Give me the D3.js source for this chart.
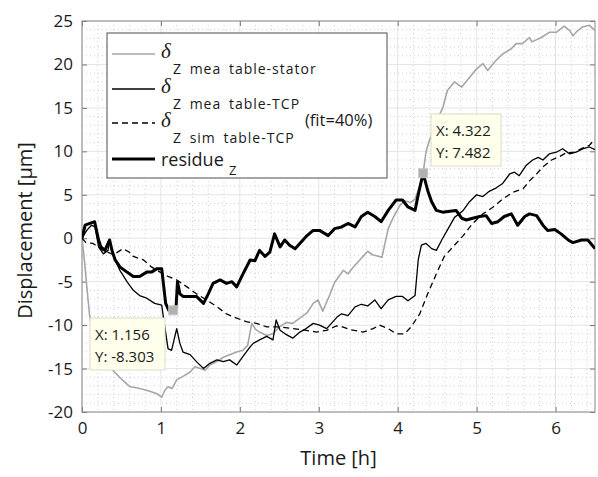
<!DOCTYPE html>
<html><head><meta charset="utf-8">
<script src="https://cdn.jsdelivr.net/npm/d3@7"></script>
<style>
body{margin:0;background:#fff;}
text{font-family:"Open Sans","Noto Sans",sans-serif;fill:#1a1a1a;}
</style></head>
<body><svg id="chart" width="598" height="477"></svg>
<script>
// ---- data ----
const statorT = [0,0.03,0.06,0.1,0.15,0.2,0.3,0.4,0.5,0.57,0.61,0.69,0.78,0.86,0.95,1.01,1.05,1.09,1.14,1.2,1.28,1.37,1.43,1.5,1.56,1.62,1.71,1.79,1.87,1.96,2.04,2.1,2.15,2.2,2.25,2.34,2.42,2.5,2.59,2.67,2.76,2.85,2.93,2.99,3.05,3.14,3.2,3.31,3.37,3.45,3.52,3.62,3.68,3.8,3.88,3.94,4.03,4.09,4.16,4.22,4.28,4.322,4.36,4.4,4.47,4.53,4.57,4.63,4.72,4.81,4.91,5.0,5.08,5.14,5.25,5.33,5.44,5.5,5.58,5.67,5.7,5.82,5.92,6.01,6.11,6.18,6.22,6.27,6.34,6.43,6.5];
const statorV = [0,-2.5,-5.5,-9.2,-11.5,-12.8,-14.3,-15.3,-16.2,-16.8,-17.1,-17.2,-17.4,-17.6,-17.9,-18.3,-17.5,-17.1,-17.3,-16.3,-15.9,-15.4,-14.8,-15.0,-15.2,-14.6,-14.2,-13.7,-13.4,-13.1,-12.9,-12.3,-9.8,-10.5,-10.8,-11.2,-11.0,-10.2,-9.7,-9.8,-9.2,-8.6,-7.5,-7.1,-8.4,-6.5,-5.1,-3.7,-4.1,-3.2,-2.5,-1.5,-1.9,-2.2,1.1,2.3,3.8,4.3,4.1,4.5,6.0,7.482,10.0,11.2,12.8,14.2,15.0,17.0,18.0,17.4,18.5,19.5,20.1,19.3,20.5,21.2,21.8,22.4,22.4,23.1,22.6,23.1,23.7,23.7,24.4,23.9,23.3,23.8,24.3,24.5,23.9];

const meaT = [0,0.06,0.12,0.165,0.21,0.27,0.33,0.35,0.4,0.48,0.57,0.65,0.73,0.82,0.92,1.01,1.03,1.09,1.135,1.2,1.24,1.28,1.37,1.45,1.54,1.62,1.71,1.79,1.87,1.96,2.04,2.13,2.17,2.25,2.34,2.42,2.46,2.51,2.59,2.67,2.76,2.84,2.93,3.01,3.1,3.18,3.24,3.29,3.37,3.46,3.54,3.62,3.71,3.79,3.88,3.98,4.06,4.13,4.22,4.26,4.3,4.36,4.43,4.49,4.57,4.64,4.72,4.83,4.91,5.0,5.08,5.16,5.25,5.33,5.42,5.48,5.54,5.63,5.71,5.78,5.84,5.92,6.01,6.09,6.18,6.26,6.35,6.43,6.5];
const meaV = [0,0.9,1.5,1.3,-1.0,-1.8,-1.4,-0.2,-2.1,-3.7,-5.0,-6.0,-6.6,-6.9,-7.5,-7.7,-9.0,-12.7,-12.9,-10.4,-12.1,-13.1,-13.4,-14.2,-15.0,-14.4,-14.0,-14.2,-14.0,-14.6,-13.6,-12.5,-12.1,-11.7,-11.3,-11.7,-9.4,-10.6,-11.1,-11.5,-10.8,-10.4,-9.8,-10.0,-10.4,-9.6,-9.0,-8.7,-8.9,-7.9,-7.6,-7.8,-7.1,-8.1,-7.1,-6.7,-6.7,-7.2,-6.6,-2.5,-0.8,-0.6,-1.2,-1.4,0,1.1,2.4,3.2,4.2,5.0,4.8,5.4,5.8,6.3,7.4,7.6,7.2,8.4,9.0,9.3,9.0,9.7,9.9,10.3,9.7,9.9,10.3,10.5,10.2];

const simT = [0,0.05,0.14,0.27,0.4,0.52,0.6,0.65,0.78,0.88,0.99,1.09,1.2,1.33,1.45,1.58,1.71,1.83,1.96,2.08,2.21,2.34,2.51,2.67,2.84,2.97,3.1,3.22,3.3,3.39,3.56,3.69,3.77,3.88,3.98,4.09,4.17,4.28,4.38,4.49,4.59,4.7,4.83,4.95,5.08,5.21,5.33,5.46,5.59,5.67,5.76,5.84,5.95,6.05,6.13,6.24,6.35,6.43,6.5];
const simV = [0,-0.5,-0.6,-1.4,-1.9,-1.2,-1.6,-2.1,-2.5,-3.3,-3.9,-4.4,-4.8,-5.6,-6.4,-7.1,-7.9,-8.7,-9.2,-9.6,-9.8,-10.2,-10.2,-10.4,-10.6,-10.8,-10.6,-10.1,-10.2,-10.5,-10.8,-10.4,-10.0,-10.4,-11.0,-11.0,-10.2,-8.7,-6.4,-4.1,-2.1,-1.0,0.3,1.7,2.8,3.6,4.5,5.3,5.7,6.6,7.4,8.2,9.0,9.4,9.8,9.9,10.4,10.7,11.4];

const resT = [0,0.04,0.1,0.16,0.21,0.24,0.29,0.35,0.38,0.42,0.48,0.57,0.65,0.73,0.82,0.88,0.95,1.01,1.06,1.1,1.156,1.19,1.21,1.24,1.28,1.37,1.45,1.54,1.6,1.66,1.75,1.83,1.9,1.96,2.04,2.13,2.19,2.25,2.32,2.38,2.44,2.51,2.57,2.63,2.7,2.76,2.84,2.93,3.01,3.12,3.2,3.29,3.37,3.46,3.54,3.62,3.71,3.79,3.88,3.98,4.06,4.13,4.22,4.26,4.322,4.38,4.43,4.49,4.57,4.66,4.74,4.81,4.87,4.95,5.04,5.12,5.19,5.27,5.35,5.44,5.52,5.61,5.67,5.76,5.84,5.9,5.99,6.07,6.16,6.22,6.33,6.41,6.5];
const resV = [0,1.5,1.7,1.9,-0.2,-1.0,-1.4,-0.2,-1.4,-2.5,-3.3,-3.9,-4.4,-4.4,-3.9,-3.9,-3.5,-3.5,-7.5,-8.3,-8.303,-8.2,-5.0,-6.4,-6.7,-6.7,-6.7,-7.5,-6.4,-5.2,-4.8,-5.2,-5.0,-5.6,-4.1,-2.5,-2.6,-1.4,-2.1,-1.6,0.5,-1.0,-0.2,-0.8,-1.2,-0.6,0.2,0.9,0.9,0.3,1.1,1.3,1.7,1.3,2.5,3.0,2.5,1.9,3.2,4.4,4.4,3.6,3.2,5.0,7.482,5.5,4.2,3.2,3.0,3.1,3.2,2.3,2.1,2.3,2.5,2.6,1.7,1.9,2.5,2.8,1.5,2.5,2.8,2.6,1.5,0.9,1.0,0.5,-0.2,-0.5,-0.2,-0.2,-1.2];

const xTicks = [0,1,2,3,4,5,6];
const yTicks = [-20,-15,-10,-5,0,5,10,15,20,25];
const tipX = [1.156, 4.322];
const tipY = [-8.303, 7.482];
const legendSubs = ["Z mea table-stator","Z mea table-TCP","Z sim table-TCP"];

// ---- chart ----
const svg = d3.select("#chart");
const L=82, R=595, T=21, B=412;
const x = d3.scaleLinear().domain([0,6.5]).range([L,R]);
const y = d3.scaleLinear().domain([-20,25]).range([B,T]);

// minor grid
const g = svg.append("g");
g.selectAll(".mx").data(d3.range(0,6.51,0.2).filter(v=>Math.abs(v-Math.round(v))>1e-6))
 .enter().append("line").attr("x1",d=>x(d)).attr("x2",d=>x(d)).attr("y1",T).attr("y2",B)
 .attr("stroke","#d0d0d0").attr("stroke-width",1).attr("stroke-dasharray","1,3");
g.selectAll(".my").data(d3.range(-20,25.01,1).filter(v=>v%5!==0))
 .enter().append("line").attr("y1",d=>y(d)).attr("y2",d=>y(d)).attr("x1",L).attr("x2",R)
 .attr("stroke","#d0d0d0").attr("stroke-width",1).attr("stroke-dasharray","1,3");
// major grid
g.selectAll(".Mx").data(xTicks).enter().append("line")
 .attr("x1",d=>x(d)).attr("x2",d=>x(d)).attr("y1",T).attr("y2",B).attr("stroke","#e4e4e4");
g.selectAll(".My").data(yTicks).enter().append("line")
 .attr("y1",d=>y(d)).attr("y2",d=>y(d)).attr("x1",L).attr("x2",R).attr("stroke","#e4e4e4");

// axes
function styleAxis(sel){
  sel.select(".domain").remove();
  sel.selectAll(".tick line").attr("stroke","#777");
  sel.selectAll("text").style("font-size","17px").attr("fill","#1a1a1a");
}
const fmt = d=>String(d);
svg.append("g").attr("transform",`translate(0,${B})`)
  .call(d3.axisBottom(x).tickValues(xTicks).tickSizeInner(-5).tickSizeOuter(0).tickPadding(10).tickFormat(fmt))
  .call(styleAxis);
svg.append("g").attr("transform",`translate(0,${T})`)
  .call(d3.axisTop(x).tickValues(xTicks).tickSizeInner(-5).tickSizeOuter(0).tickFormat(""))
  .call(styleAxis);
svg.append("g").attr("transform",`translate(${L},0)`)
  .call(d3.axisLeft(y).tickValues(yTicks).tickSizeInner(-5).tickSizeOuter(0).tickPadding(9).tickFormat(fmt))
  .call(styleAxis);
svg.append("g").attr("transform",`translate(${R},0)`)
  .call(d3.axisRight(y).tickValues(yTicks).tickSizeInner(-5).tickSizeOuter(0).tickFormat(""))
  .call(styleAxis);

svg.append("rect").attr("x",L).attr("y",T).attr("width",R-L).attr("height",B-T)
  .attr("fill","none").attr("stroke","#8a8a8a").attr("stroke-width",1);

// series
const line = d3.line().x(d=>x(d[0])).y(d=>y(d[1]));
svg.append("clipPath").attr("id","clp").append("rect").attr("x",L).attr("y",T).attr("width",R-L).attr("height",B-T);
const plot = svg.append("g").attr("clip-path","url(#clp)");
const series = [
  {t:statorT,v:statorV,stroke:"#a6a6a6",w:1.6,dash:null},
  {t:simT,v:simV,stroke:"#000",w:1.3,dash:"6,4"},
  {t:meaT,v:meaV,stroke:"#000",w:1.3,dash:null},
  {t:resT,v:resV,stroke:"#000",w:3,dash:null}
];
series.forEach(s=>{
  plot.append("path").datum(d3.zip(s.t,s.v)).attr("d",line)
    .attr("fill","none").attr("stroke",s.stroke).attr("stroke-width",s.w)
    .attr("stroke-linejoin","round").attr("stroke-dasharray",s.dash);
});

// axis labels
svg.append("text").attr("x",(L+R)/2).attr("y",465).attr("text-anchor","middle")
  .style("font-size","20px").text("Time [h]");
svg.append("text").attr("transform",`translate(32,${(T+B)/2+14}) rotate(-90)`).attr("text-anchor","middle")
  .style("font-size","20px").text("Displacement [\u03bcm]");

// legend
const lg = svg.append("g");
lg.append("rect").attr("x",107).attr("y",33).attr("width",280).attr("height",145)
  .attr("fill","#fff").attr("stroke","#4d4d4d").attr("stroke-width",1);
const legendRows = [
  {y:54, stroke:"#a6a6a6", w:1.6, dash:null, sub:legendSubs[0]},
  {y:89, stroke:"#000", w:1.3, dash:null, sub:legendSubs[1]},
  {y:123, stroke:"#000", w:1.3, dash:"6,4", sub:legendSubs[2]},
  {y:159, stroke:"#000", w:3, dash:null, sub:null}
];
legendRows.forEach(r=>{
  lg.append("line").attr("x1",112).attr("x2",155).attr("y1",r.y).attr("y2",r.y)
    .attr("stroke",r.stroke).attr("stroke-width",r.w).attr("stroke-dasharray",r.dash);
  if(r.sub){
    lg.append("text").attr("x",161).attr("y",r.y+4).style("font-family","'Liberation Serif',serif")
      .style("font-style","italic").style("font-size","21px").text("\u03b4");
    lg.append("text").attr("x",173).attr("y",r.y+20).style("font-size","14px")
      .style("letter-spacing","1px").style("word-spacing","3px").text(r.sub);
  } else {
    lg.append("text").attr("x",161).attr("y",r.y+7).style("font-size","18px").text("residue");
    lg.append("text").attr("x",229).attr("y",r.y+16).style("font-size","13px").text("Z");
  }
});
lg.append("text").attr("x",305).attr("y",126).style("font-size","16.5px").text("(fit=40%)");

// data tips
const tips = [
  {bx:90, by:318, bw:75, bh:52},
  {bx:431, by:114, bw:70, bh:52}
];
tips.forEach((b,i)=>{
  const px = x(tipX[i]), py = y(tipY[i]);
  svg.append("rect").attr("x",px-4.5).attr("y",py-4.5).attr("width",9).attr("height",9)
    .attr("fill","#b0b0b0").attr("stroke","#c8c8c8");
  svg.append("rect").attr("x",b.bx).attr("y",b.by).attr("width",b.bw).attr("height",b.bh)
    .attr("fill","#ffffec").attr("stroke","#dcdcc8");
  svg.append("text").attr("x",b.bx+5).attr("y",b.by+22).style("font-size","15px").text("X: "+tipX[i]);
  svg.append("text").attr("x",b.bx+5).attr("y",b.by+44).style("font-size","15px").text("Y: "+tipY[i]);
});
</script></body></html>
